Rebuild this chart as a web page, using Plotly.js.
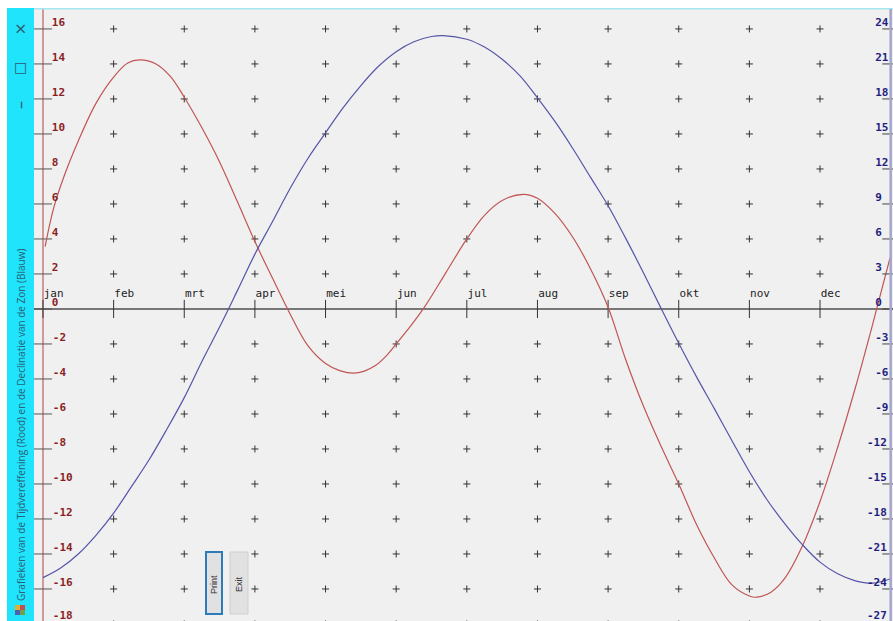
<!DOCTYPE html>
<html>
<head>
<meta charset="utf-8">
<script src="https://cdn.plot.ly/plotly-3.0.1.min.js"></script>
<style>html,body{margin:0;padding:0;background:#fff;overflow:hidden}#c{width:893px;height:621px}</style>
</head>
<body>
<div id="c"></div>
<script>
var months = ['jan','feb','mrt','apr','mei','jun','jul','aug','sep','okt','nov','dec'];
var leftTicks = [16,14,12,10,8,6,4,2,0,-2,-4,-6,-8,-10,-12,-14,-16,-18];
var rightTicks = [24,21,18,15,12,9,6,3,0,-3,-6,-9,-12,-15,-18,-21,-24,-27];

var redX = [0.03,0.15,0.3,0.5,0.75,1.0,1.2,1.37,1.6,1.8,2.0,2.25,2.5,2.75,3.0,3.25,3.5,3.75,4.0,4.2,4.4,4.55,4.7,4.85,5.0,5.2,5.4,5.7,6.0,6.25,6.5,6.8,7.0,7.25,7.5,7.75,8.0,8.25,8.5,8.75,9.0,9.25,9.5,9.75,10.0,10.1,10.3,10.5,10.75,11.0,11.25,11.5,11.75,11.99];
var redY = [3.56,5.75,7.6,9.6,11.75,13.25,14.05,14.23,14.0,13.3,12.1,10.35,8.4,6.15,3.85,1.75,-0.3,-2.1,-3.12,-3.52,-3.67,-3.55,-3.25,-2.72,-2.0,-1.0,0.1,2.05,4.0,5.35,6.2,6.55,6.33,5.45,4.1,2.3,0.1,-2.9,-5.55,-7.85,-10.0,-12.3,-14.2,-15.75,-16.4,-16.47,-16.2,-15.4,-13.55,-11.0,-7.9,-4.5,-0.8,2.91];
var blueX = [0,0.25,0.5,0.75,1.0,1.25,1.5,1.75,2.0,2.25,2.5,2.75,3.0,3.25,3.5,3.75,4.0,4.25,4.5,4.75,5.0,5.25,5.5,5.67,6.0,6.25,6.5,6.75,7.0,7.25,7.5,7.75,8.0,8.25,8.5,8.75,9.0,9.25,9.5,9.75,10.0,10.25,10.5,10.75,11.0,11.25,11.5,11.75,12.01];
var blueY = [-23.03,-22.2,-21.0,-19.4,-17.5,-15.25,-12.95,-10.35,-7.6,-4.5,-1.55,1.55,4.7,7.5,10.35,12.9,15.1,17.25,19.15,20.8,22.05,22.9,23.35,23.43,23.12,22.45,21.4,20.0,18.1,16.05,13.75,11.3,8.85,6.05,3.1,0.05,-2.94,-5.8,-8.5,-11.25,-13.95,-16.35,-18.4,-20.2,-21.7,-22.7,-23.3,-23.5,-23.1];

var titleText = 'Grafieken van de Tijdvereffening (Rood) en de Declinatie van de Zon (Blauw)';
var W = 893, H = 621, L = 34, T = 9;
function px(x){ return (x - L) / (W - L); }
function py(y){ return 1 - (y - T) / (H - T); }
function rect(x0,y0,x1,y1,fill,line,lw){
  return {type:'rect',xref:'paper',yref:'paper',layer:'above',x0:px(x0),x1:px(x1),y0:py(y1),y1:py(y0),
          fillcolor:fill,line:{color:line||fill,width:lw||0}};
}
function note(x,y,text,size,color,family,angle){
  return {xref:'paper',yref:'paper',x:px(x),y:py(y),text:text,showarrow:false,textangle:angle===undefined?-90:angle,
          font:{size:size,color:color,family:family||'Open Sans'},xanchor:'center',yanchor:'middle',borderpad:0};
}
var mono = 'DejaVu Sans Mono';
var monthIdx = months.map(function(_,i){return i;});
var gridX = [], gridY = [];
monthIdx.slice(1).forEach(function(m){ leftTicks.forEach(function(v){ if(v!==0){gridX.push(m);gridY.push(v);} }); });

var traces = [
  {x:gridX,y:gridY,mode:'markers',marker:{symbol:'cross-thin',size:5,line:{width:1,color:'#333'}}},
  {x:leftTicks.map(function(){return 0;}),y:leftTicks,mode:'markers',marker:{symbol:'line-ew',size:13,line:{width:1,color:'#555'}}},
  {x:rightTicks.map(function(){return 12;}),y:rightTicks,yaxis:'y2',mode:'markers',marker:{symbol:'line-ew',size:12,line:{width:1,color:'#444'}}},
  {x:monthIdx,y:monthIdx.map(function(){return 0;}),mode:'markers',marker:{symbol:'line-ns',size:13,line:{width:1,color:'#333'}}},
  {x:redX,y:redY,mode:'lines',line:{color:'#c05555',width:1.2,shape:'spline',smoothing:1}},
  {x:blueX,y:blueY,yaxis:'y2',mode:'lines',line:{color:'#5555a8',width:1.2,shape:'spline',smoothing:1}},
  {x:leftTicks.map(function(v){return v<0?0.14:0.125;}),y:leftTicks.map(function(v){return v===-18?v+0.1:v;}),mode:'text',text:leftTicks.map(String),textposition:'top right',
   textfont:{family:mono,size:11,color:'#8a1f1f',weight:700}},
  {x:rightTicks.map(function(v){return String(v).length>2?11.665:11.78;}),y:rightTicks.map(function(v){return v===-27?v+0.15:v;}),yaxis:'y2',mode:'text',text:rightTicks.map(String),textposition:'top right',
   textfont:{family:mono,size:11,color:'#1f1f80',weight:700}},
  {x:monthIdx.map(function(m){return m+0.01;}),y:monthIdx.map(function(){return 0.5;}),mode:'text',text:months,textposition:'top right',
   textfont:{family:mono,size:11,color:'#222'}}
];
traces.forEach(function(t){t.showlegend=false;t.hoverinfo='skip';});

var layout = {
  width:W,height:H,autosize:false,showlegend:false,
  margin:{l:L,r:0,t:T,b:0,pad:0},
  paper_bgcolor:'#ffffff',plot_bgcolor:'#f0f0f0',
  xaxis:{range:[-0.127,12.033],showgrid:false,showticklabels:false,ticks:'',showline:false,
         zeroline:true,zerolinecolor:'#d09a9a',zerolinewidth:2.5,fixedrange:true},
  yaxis:{range:[-17.83,17.14],showgrid:false,showticklabels:false,ticks:'',showline:false,
         zeroline:true,zerolinecolor:'#777777',zerolinewidth:2,fixedrange:true},
  yaxis2:{overlaying:'y',side:'right',range:[-26.745,25.71],showgrid:false,showticklabels:false,ticks:'',
          showline:false,zeroline:false,fixedrange:true},
  shapes:[
    rect(7,8,34,621,'#1fe4fb'),
    rect(34,8,893,9.5,'#a5e6f0'),
    {type:'line',xref:'x',yref:'paper',x0:12,x1:12,y0:0,y1:1,layer:'above',line:{color:'#a4a4cc',width:2.5}},
    rect(206,552,222,614,'#e1e1e1','#2b7cb8',2),
    rect(230,552,248,614,'#e1e1e1','#cfcfcf',1),
    rect(15,605,20,610,'#e0b030'),
    rect(20,605,25,610,'#c05050'),
    rect(15,610,20,615,'#5060b0'),
    rect(20,610,25,615,'#70a050')
  ],
  annotations:[
    note(20,29,'×',20,'#2e5a70','Open Sans',0),
    note(20,67,'□',14,'#2e5a70','DejaVu Sans',0),
    note(20,105,'–',16,'#2e5a70','Open Sans',-90),
    note(21,425,titleText,10,'#2a5f78'),
    note(214,585,'Print',9,'#333','Liberation Sans'),
    note(239,584,'Exit',9,'#333','Liberation Sans')
  ]
};
Plotly.newPlot('c',traces,layout,{displayModeBar:false,staticPlot:true});
</script>
</body>
</html>
